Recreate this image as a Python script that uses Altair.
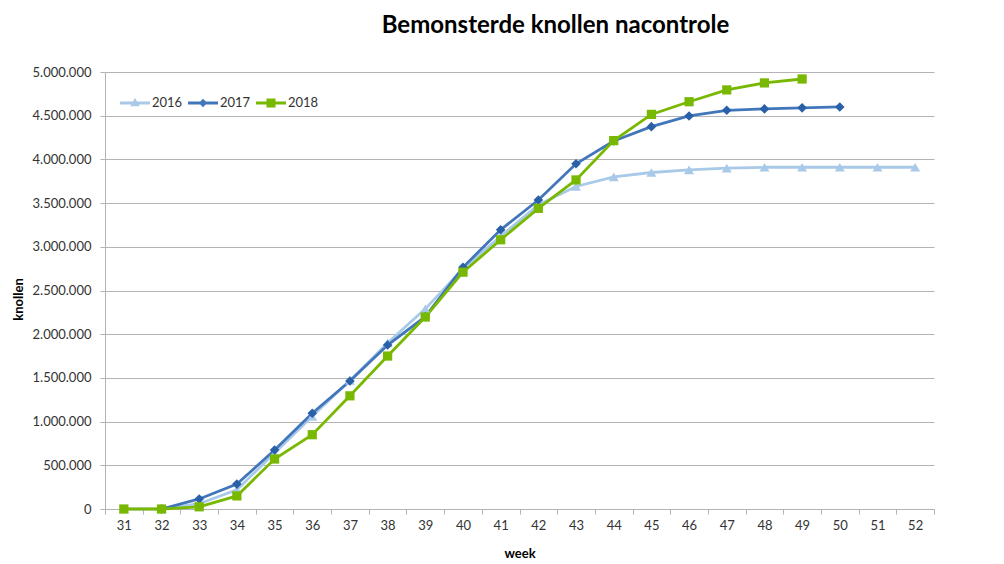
import altair as alt
import pandas as pd

weeks = list(range(31, 53))
series_names = ["2016", "2017", "2018"]
s2016 = [0, 0, 60000, 220000, 640000, 1060000, 1470000, 1900000, 2290000, 2750000,
         3120000, 3480000, 3690000, 3800000, 3850000, 3880000, 3900000, 3910000,
         3910000, 3910000, 3910000, 3910000]
s2017 = [None, 0, 115000, 285000, 675000, 1095000, 1465000, 1876000, 2200000, 2765000,
         3195000, 3535000, 3950000, 4210000, 4375000, 4497000, 4562000, 4578000,
         4590000, 4600000, None, None]
s2018 = [0, 0, 25000, 150000, 572000, 850000, 1295000, 1750000, 2197000, 2710000,
         3080000, 3440000, 3765000, 4215000, 4515000, 4660000, 4795000, 4875000,
         4920000, None, None, None]

line_colors = ["#a9c9e8", "#4176bb", "#78b800"]
point_colors = ["#a9c9e8", "#2a60a8", "#78b800"]
shapes = ["triangle-up", "diamond", "square"]
sizes = [100, 85, 130]

rows = []
for name, vals in zip(series_names, [s2016, s2017, s2018]):
    for w, v in zip(weeks, vals):
        if v is not None:
            rows.append({"week": w, "knollen": v, "serie": name})
df = pd.DataFrame(rows)

FONT = "Lato"

x_enc = alt.X("week:O", title="week",
              scale=alt.Scale(domain=weeks, paddingInner=0, paddingOuter=0),
              axis=alt.Axis(labelAngle=0, tickBand="extent", grid=False,
                            domainColor="#b3b3b3", tickColor="#b3b3b3", tickSize=5,
                            labelPadding=5, labelFontSize=13, labelColor="#333333",
                            labelFont=FONT, titleFont=FONT, titleFontSize=13,
                            titleFontWeight="bold", titleColor="#000000",
                            titleY=44, titleBaseline="middle"))
y_enc = alt.Y("knollen:Q", title="knollen",
              scale=alt.Scale(domain=[0, 5000000], nice=False),
              axis=alt.Axis(values=list(range(0, 5000001, 500000)),
                            labelExpr="replace(format(datum.value, ',d'), regexp(',', 'g'), '.')",
                            gridColor="#b3b3b3", domainColor="#b3b3b3", tickColor="#b3b3b3",
                            tickSize=5, labelPadding=9, labelFontSize=13,
                            labelColor="#333333", labelFont=FONT, titleFont=FONT,
                            titleFontSize=13, titleFontWeight="bold", titleColor="#000000",
                            titleX=-87, titleY=227, titleBaseline="middle"))

p_tri = "M-1,-0.1H1V0.1H-1Z M0,-0.34L0.32,0.22H-0.32Z"
p_dia = "M-1,-0.1H1V0.1H-1Z M0,-0.28L0.28,0L0,0.28L-0.28,0Z"
p_sq = "M-1,-0.1H1V0.1H-1Z M-0.3,-0.3H0.3V0.3H-0.3Z"
legend_shapes = [p_tri, p_dia, p_sq]

legend = alt.Legend(title=None, orient="none", legendX=15, legendY=16, direction="horizontal",
                    symbolSize=900, labelFontSize=13, labelFont=FONT, labelColor="#333333",
                    labelOffset=2, columnPadding=5, symbolStrokeWidth=0, symbolOpacity=1)

base = alt.Chart(df)
lines = base.mark_line(strokeWidth=2.8).encode(
    x=x_enc, y=y_enc,
    color=alt.Color("serie:N", scale=alt.Scale(domain=series_names, range=line_colors), legend=None),
)
points = base.mark_point(filled=True, opacity=1).encode(
    x=x_enc, y=y_enc,
    fill=alt.Fill("serie:N", scale=alt.Scale(domain=series_names, range=point_colors), legend=None),
    shape=alt.Shape("serie:N", scale=alt.Scale(domain=series_names, range=shapes), legend=None),
    size=alt.Size("serie:N", scale=alt.Scale(domain=series_names, range=sizes), legend=None),
)
legend_layer = base.transform_filter(alt.datum.knollen < 0).mark_point(filled=True, opacity=1).encode(
    x=x_enc, y=y_enc,
    fill=alt.Fill("serie:N", scale=alt.Scale(domain=series_names, range=line_colors), legend=legend),
    shape=alt.Shape("serie:N", scale=alt.Scale(domain=series_names, range=legend_shapes), legend=legend),
)

chart = alt.layer(lines, points, legend_layer).resolve_scale(
    color="independent", fill="independent", shape="independent", size="independent"
).properties(
    width=829, height=437,
    autosize=alt.AutoSizeParams(type="none"),
    padding={"left": 97, "top": 64, "right": 60, "bottom": 52},
    title=alt.TitleParams("Bemonsterde knollen nacontrole", font=FONT, fontSize=24,
                          fontWeight="bold", color="#000000", anchor="middle", dx=36,
                          offset=28),
).configure_view(stroke=None)

chart.save("out.html", embed_options={"renderer": "svg", "actions": False})
